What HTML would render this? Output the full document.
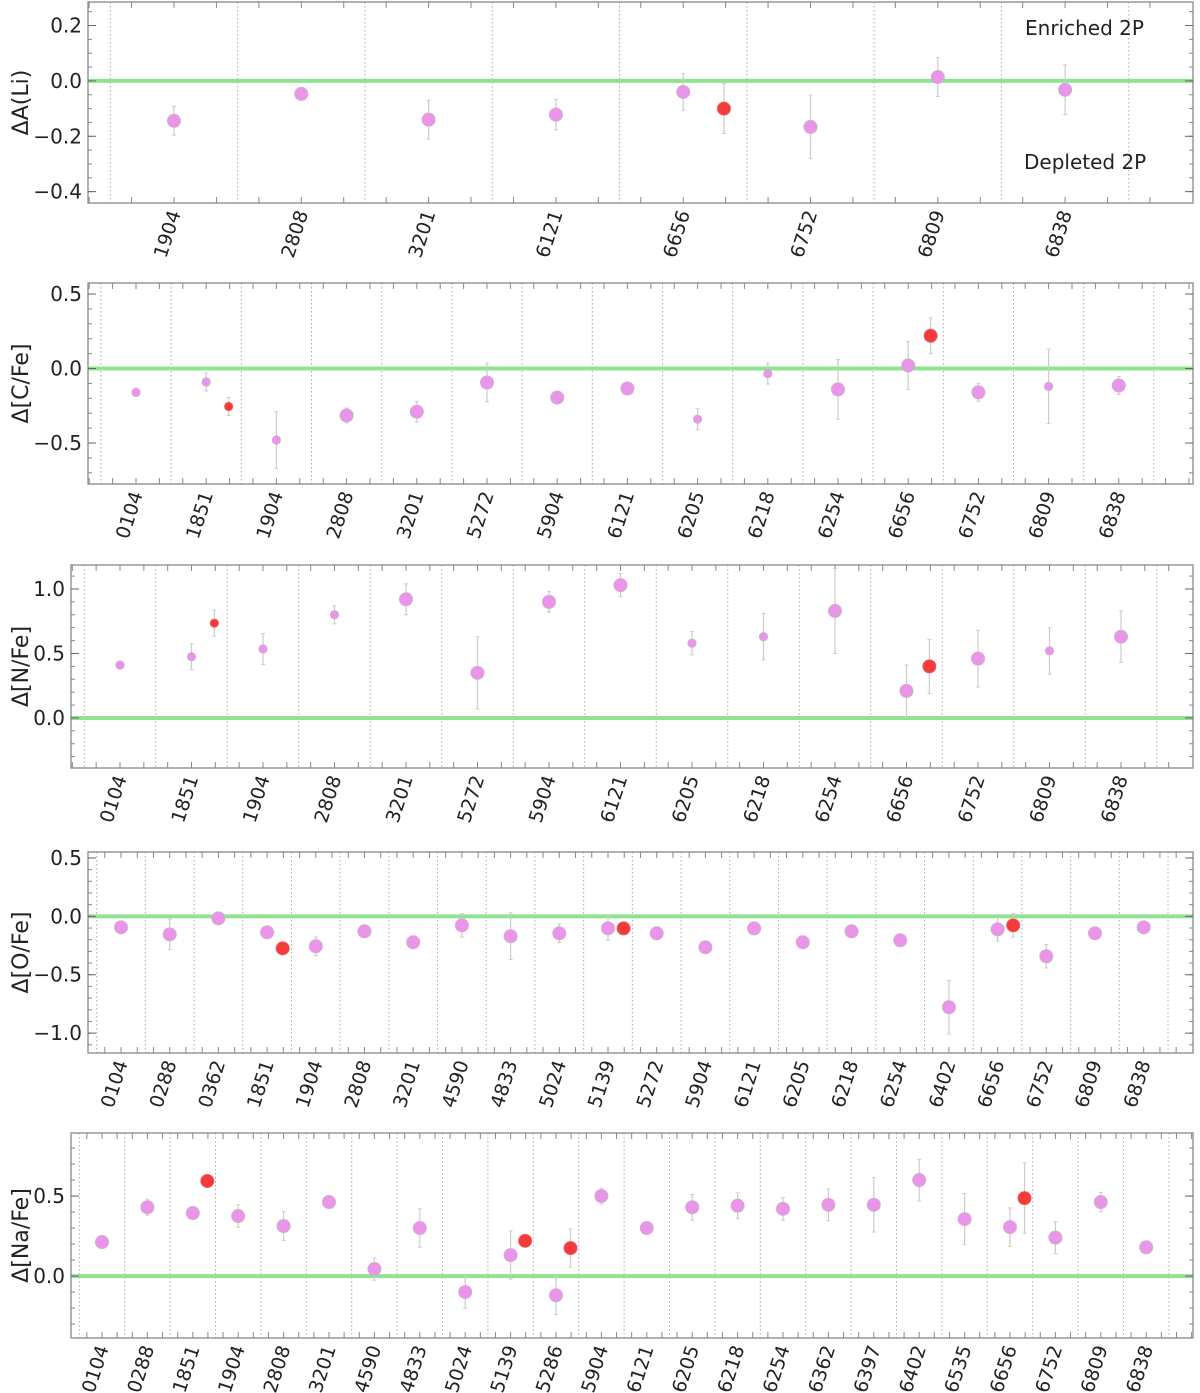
<!DOCTYPE html>
<html><head><meta charset="utf-8"><style>
html,body{margin:0;padding:0;background:#fff}
svg{display:block}
text{font-family:"DejaVu Sans","Liberation Sans",sans-serif;fill:#222}
</style></head><body>
<svg id="fig" width="1200" height="1393" viewBox="0 0 1200 1393" xmlns="http://www.w3.org/2000/svg"></svg>
<script>
// ---- Panel 1: Li ----
const liCats=["1904","2808","3201","6121","6656","6752","6809","6838"];
const liVals=[-0.144,-0.047,-0.14,-0.122,-0.04,-0.166,0.014,-0.032];
const liErrs=[0.052,0.02,0.07,0.055,0.066,0.115,0.07,0.09];
const liSmall=[0,0,0,0,0,0,0,0];
const liRedCats=["6656"];
const liRedVals=[-0.10];
const liRedErrs=[0.09];
const liRedSmall=[0];
const liTicks=[0.2,0.0,-0.2,-0.4];
// ---- Panel 2: C ----
const cCats=["0104","1851","1904","2808","3201","5272","5904","6121","6205","6218","6254","6656","6752","6809","6838"];
const cVals=[-0.16,-0.09,-0.48,-0.315,-0.29,-0.094,-0.195,-0.134,-0.34,-0.034,-0.14,0.02,-0.16,-0.12,-0.114];
const cErrs=[0.01,0.06,0.19,0.05,0.07,0.13,0.04,0.02,0.07,0.07,0.2,0.16,0.06,0.25,0.06];
const cSmall=[1,1,1,0,0,0,0,0,1,1,0,0,0,1,0];
const cRedCats=["1851","6656"];
const cRedVals=[-0.255,0.22];
const cRedErrs=[0.06,0.12];
const cRedSmall=[1,0];
const cTicks=[0.5,0.0,-0.5];
// ---- Panel 3: N ----
const nCats=["0104","1851","1904","2808","3201","5272","5904","6121","6205","6218","6254","6656","6752","6809","6838"];
const nVals=[0.41,0.475,0.535,0.8,0.92,0.35,0.9,1.03,0.58,0.63,0.83,0.21,0.46,0.52,0.63];
const nErrs=[0.01,0.1,0.12,0.07,0.12,0.28,0.08,0.09,0.09,0.18,0.33,0.2,0.22,0.18,0.2];
const nSmall=[1,1,1,1,0,0,0,0,1,1,0,0,0,1,0];
const nRedCats=["1851","6656"];
const nRedVals=[0.735,0.40];
const nRedErrs=[0.1,0.21];
const nRedSmall=[1,0];
const nTicks=[1.0,0.5,0.0];
// ---- Panel 4: O ----
const oCats=["0104","0288","0362","1851","1904","2808","3201","4590","4833","5024","5139","5272","5904","6121","6205","6218","6254","6402","6656","6752","6809","6838"];
const oVals=[-0.094,-0.154,-0.017,-0.137,-0.256,-0.128,-0.222,-0.077,-0.17,-0.145,-0.103,-0.145,-0.265,-0.103,-0.222,-0.128,-0.205,-0.778,-0.111,-0.342,-0.145,-0.094];
const oErrs=[0.02,0.13,0.03,0.02,0.08,0.02,0.02,0.1,0.2,0.08,0.1,0.02,0.02,0.02,0.02,0.02,0.02,0.23,0.1,0.1,0.02,0.02];
const oSmall=[0,0,0,0,0,0,0,0,0,0,0,0,0,0,0,0,0,0,0,0,0,0];
const oRedCats=["1851","5139","6656"];
const oRedVals=[-0.274,-0.103,-0.077];
const oRedErrs=[0.02,0.02,0.1];
const oRedSmall=[0,0,0];
const oTicks=[0.5,0.0,-0.5,-1.0];
// ---- Panel 5: Na ----
const naCats=["0104","0288","1851","1904","2808","3201","4590","4833","5024","5139","5286","5904","6121","6205","6218","6254","6362","6397","6402","6535","6656","6752","6809","6838"];
const naVals=[0.2125,0.43,0.394,0.375,0.3125,0.4625,0.044,0.3,-0.1,0.131,-0.12,0.5,0.3,0.43,0.44,0.42,0.445,0.445,0.6,0.356,0.306,0.24,0.4625,0.18];
const naErrs=[0.02,0.05,0.02,0.07,0.09,0.02,0.07,0.12,0.1,0.15,0.12,0.05,0.02,0.08,0.08,0.07,0.1,0.17,0.13,0.16,0.12,0.1,0.06,0.02];
const naSmall=[0,0,0,0,0,0,0,0,0,0,0,0,0,0,0,0,0,0,0,0,0,0,0,0];
const naRedCats=["1851","5139","5286","6656"];
const naRedVals=[0.594,0.22,0.175,0.487];
const naRedErrs=[0.02,0.02,0.12,0.22];
const naRedSmall=[0,0,0,0];
const naTicks=[0.5,0.0];

const NS="http://www.w3.org/2000/svg";
const svg=document.getElementById('fig');
function mk(tag,attrs,parent){const e=document.createElementNS(NS,tag);for(const k in attrs)e.setAttribute(k,attrs[k]);(parent||svg).appendChild(e);return e;}

const panels=[
 {key:'li',label:'ΔA(Li)',cats:liCats,vals:liVals,errs:liErrs,small:liSmall,rc:liRedCats,rv:liRedVals,re:liRedErrs,rs:liRedSmall,ticks:liTicks,
  L:88,R:1193,T:2,B:203,ymin:-0.441,ymax:0.285,x0:174,dx:127.3,minor:0.05},
 {key:'c',label:'Δ[C/Fe]',cats:cCats,vals:cVals,errs:cErrs,small:cSmall,rc:cRedCats,rv:cRedVals,re:cRedErrs,rs:cRedSmall,ticks:cTicks,
  L:88,R:1193,T:283,B:484,ymin:-0.775,ymax:0.574,x0:136,dx:70.2,minor:0.1},
 {key:'n',label:'Δ[N/Fe]',cats:nCats,vals:nVals,errs:nErrs,small:nSmall,rc:nRedCats,rv:nRedVals,re:nRedErrs,rs:nRedSmall,ticks:nTicks,
  L:71,R:1193,T:565,B:768,ymin:-0.388,ymax:1.186,x0:120,dx:71.5,minor:0.1},
 {key:'o',label:'Δ[O/Fe]',cats:oCats,vals:oVals,errs:oErrs,small:oSmall,rc:oRedCats,rv:oRedVals,re:oRedErrs,rs:oRedSmall,ticks:oTicks,
  L:88,R:1193,T:852,B:1053,ymin:-1.17,ymax:0.551,x0:121,dx:48.7,minor:0.1},
 {key:'na',label:'Δ[Na/Fe]',cats:naCats,vals:naVals,errs:naErrs,small:naSmall,rc:naRedCats,rv:naRedVals,re:naRedErrs,rs:naRedSmall,ticks:naTicks,
  L:71,R:1193,T:1133,B:1338,ymin:-0.387,ymax:0.894,x0:102,dx:45.4,minor:0.1}
];

panels.forEach(p=>{
  const g=mk('g',{});
  
  
  const ys=v=>p.B-(v-p.ymin)/(p.ymax-p.ymin)*(p.B-p.T);
  const xs=i=>p.x0+i*p.dx;
  const n=p.cats.length;
  for(let i=0;i<=n;i++){
    const x=xs(i-0.5);
    if(x<=p.L||x>=p.R)continue;
    const l=mk('line',{x1:x,x2:x,y1:p.T,y2:p.B,stroke:'#aaa','stroke-width':1,'stroke-dasharray':'1.5,2.5'},g);
    
    
  }
  const z=mk('line',{x1:p.L,x2:p.R,y1:ys(0),y2:ys(0),stroke:'#90e490','stroke-width':4},g);
  
  
  const fr=mk('rect',{x:p.L,y:p.T,width:p.R-p.L,height:p.B-p.T,fill:'none',stroke:'#888','stroke-width':1.3},g);
  
  
  for(let v=Math.ceil(p.ymin/p.minor)*p.minor;v<=p.ymax;v+=p.minor){
    const y=ys(v);
    mk('line',{x1:p.L,x2:p.L+4,y1:y,y2:y,stroke:'#888'},g);
    mk('line',{x1:p.R,x2:p.R-4,y1:y,y2:y,stroke:'#888'},g);
  }
  p.ticks.forEach(v=>{
    const y=ys(v);
    mk('line',{x1:p.L,x2:p.L+8,y1:y,y2:y,stroke:'#666'},g);
    mk('line',{x1:p.R,x2:p.R-8,y1:y,y2:y,stroke:'#666'},g);
    const t=mk('text',{x:p.L-6,y:y+7,'text-anchor':'end','font-size':20},g);
    t.textContent=(v<0?'−':'')+Math.abs(v).toFixed(1);
    
    
  });
  const yl=mk('text',{x:0,y:0,'text-anchor':'middle','font-size':22,transform:`translate(28,${(p.T+p.B)/2}) rotate(-90)`},g);
  yl.textContent=p.label;
  
  
  for(let k=-3;k<=3*n+3;k++){
    const x=xs(k/3-0.5+1/6);
    if(x<=p.L+1||x>=p.R-1)continue;
    mk('line',{x1:x,x2:x,y1:p.B,y2:p.B-6,stroke:'#888'},g);
    mk('line',{x1:x,x2:x,y1:p.T,y2:p.T+6,stroke:'#888'},g);
  }
  p.cats.forEach((c,i)=>{
    const x=xs(i);
    const t=mk('text',{x:0,y:0,'text-anchor':'end','font-size':19,transform:`translate(${x+7},${p.B+10}) rotate(-72)`},g);
    t.textContent=c;
    
    
  });
  function pt(x,v,e,small,red){
    const el=mk('line',{x1:x,x2:x,y1:ys(v-e),y2:ys(v+e),stroke:'#ccc','stroke-width':1.2},g);
    
    
    for(const vv of [v-e,v+e]) mk('line',{x1:x-2,x2:x+2,y1:ys(vv),y2:ys(vv),stroke:'#ccc'},g);
    const r=small?4.2:6.6;
    const c=mk('circle',{cx:x,cy:ys(v),r:r,fill:red?'#f43b3b':'#ea95ea',stroke:red?'#e66':'#ccb0cc','stroke-width':0.8},g);
    
    
  }
  p.vals.forEach((v,i)=>pt(xs(i),v,p.errs[i],p.small[i],false));
  p.rc.forEach((c,j)=>{const i=p.cats.indexOf(c);pt(xs(i+0.32),p.rv[j],p.re[j],p.rs[j],true);});
});
const t1=mk('text',{x:1025,y:35,'font-size':20});t1.textContent='Enriched 2P';


const t2=mk('text',{x:1024,y:169,'font-size':20});t2.textContent='Depleted 2P';


</script>
</body></html>
